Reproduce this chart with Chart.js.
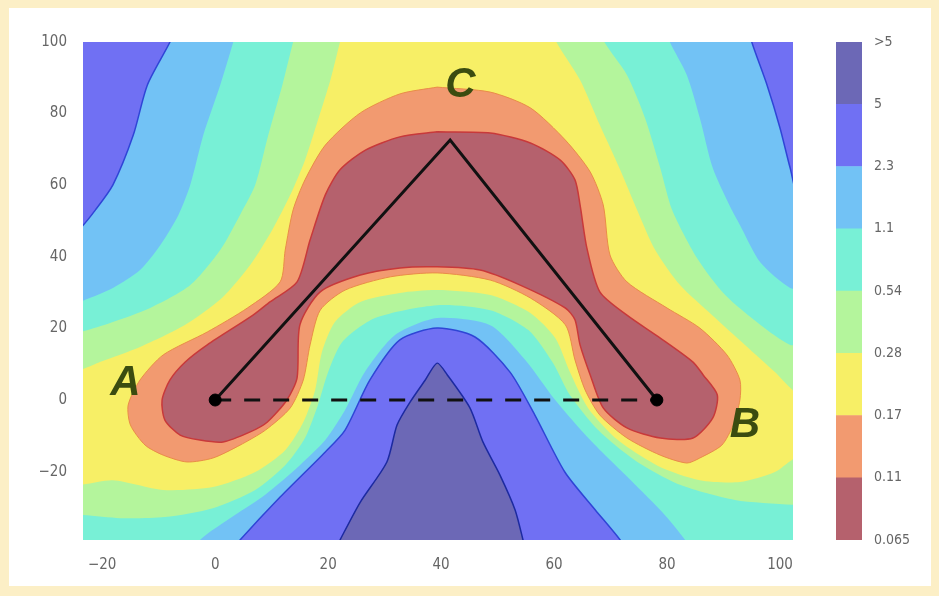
<!DOCTYPE html>
<html><head><meta charset="utf-8">
<script src="https://cdn.jsdelivr.net/npm/chart.js@4.4.0/dist/chart.umd.min.js"></script>
<style>
html,body{margin:0;padding:0;}
body{width:939px;height:596px;background:#fcefc6;position:relative;overflow:hidden;}
#frame{position:absolute;left:9px;top:8px;width:922px;height:578px;background:#ffffff;}
#main{position:absolute;left:0;top:0;}
#cbar{position:absolute;left:820px;top:0;}
</style></head><body>
<div id="frame"></div>
<canvas id="main" width="939" height="596"></canvas>
<canvas id="cbar" width="119" height="596"></canvas>
<script>
// ---- axes ----
const xTicks = [-20, 0, 20, 40, 60, 80, 100];
const yTicks = [-20, 0, 20, 40, 60, 80, 100];
const xRange = [-23.4, 102.3];
const yRange = [-39.1, 100];

// ---- colour bar (levels, bottom to top) ----
const levelLabels = ['0.065', '0.11', '0.17', '0.28', '0.54', '1.1', '2.3', '5', '>5'];
const bandColors = ['#b5616d', '#f29a70', '#f7ef66', '#b4f59c', '#78f0d6', '#72c2f5', '#7070f3', '#6c68b6'];

// ---- contour regions (x, y) ----
const regionLightBlue = [[-30,-45],[110,-45],[110,110],[-30,110]];
const regionBlueTopLeft = [[-7.1,104],[-8.0,100],[-12.0,88.0],[-14.5,74.0],[-18.1,60.1],[-21.2,53.1],[-23.9,48.0],[-27.4,44.7],[-30,44],[-30,104]];
const regionBlueTopRight = [[94.5,104],[95.0,100],[97.7,88.0],[100.0,76.0],[101.8,64.8],[103.5,55.9],[110,50],[110,104]];
const regionBlueBottom = [[3.0,-42],[4.4,-39.1],[11.5,-27.1],[19.5,-14.5],[23.0,-8.4],[27.4,5.6],[32.7,16.8],[39.3,20.1],[46.0,17.6],[52.2,7.8],[56.6,-4.2],[61.9,-20.1],[67.3,-30.7],[71.7,-39.1],[72.6,-42]];
const regionDark = [[21.2,-42],[22.1,-39.1],[25.7,-28.5],[30.4,-17.3],[32.2,-7.0],[34.5,-0.6],[37.2,5.6],[39.3,10.3],[41.1,7.0],[45.1,-2.2],[47.4,-11.7],[50.4,-20.9],[53.1,-30.7],[54.5,-39.1],[54.9,-42]];
const regionCyan = [[3.7,103.4],[3.2,100],[0.9,88.0],[-2.1,74.0],[-4.4,60.1],[-6.5,51.7],[-9.7,43.3],[-13.3,36.3],[-18.1,31.3],[-23.9,27.4],[-27.4,25.1],[-27.4,-41.9],[-2.7,-41.9],[-2.7,-39.1],[3.5,-32.1],[8.8,-26.5],[15.0,-18.2],[19.5,-11.2],[23.0,-2.8],[26.5,7.8],[31.9,18.2],[39.3,22.9],[48.7,20.9],[54.9,11.2],[60.2,0],[66.4,-11.2],[73.5,-22.3],[79.6,-32.1],[83.2,-39.1],[84.1,-41.9],[105.3,-41.9],[105.3,30.2],[101.8,31.3],[96.5,38.5],[92.9,48.9],[91.2,53.9],[88.1,64.8],[85.8,78.8],[83.5,90.8],[80.5,100],[80.0,103.4]];
const regionGreen = [[14.5,103.4],[13.8,100],[11.9,88.0],[9.4,74.0],[7.1,60.1],[4.4,51.7],[0.9,41.9],[-4.4,32.1],[-11.5,25.7],[-18.6,21.5],[-23.9,19.0],[-27.4,18.2],[-27.4,-32.1],[-23.9,-32.1],[-16.8,-33.0],[-8.9,-32.7],[-0.4,-30.2],[7.1,-25.1],[12.4,-18.2],[15.9,-10.6],[18.2,-1.4],[20.0,7.8],[22.5,16.2],[28.3,22.9],[39.3,26.5],[48.7,25.1],[55.4,19.6],[59.7,10.6],[62.8,1.4],[67.8,-8.4],[74.3,-16.8],[82.3,-23.7],[92.0,-27.9],[102.7,-29.3],[105.3,-29.3],[105.3,15.4],[101.8,15.4],[96.5,21.0],[90.3,29.3],[85.3,39.7],[80.9,53.1],[78.8,64.8],[76.1,78.8],[72.9,90.8],[68.9,100],[68.3,103.4]];
const regionYellow = [[22.7,103.4],[22.1,100],[20.4,89.4],[18.2,78.2],[15.9,67.0],[13.3,57.3],[10.1,47.5],[6.2,37.7],[1.2,28.5],[-5.3,21.0],[-13.3,14.8],[-20.4,10.6],[-23.9,8.4],[-27.4,7.8],[-27.4,-23.7],[-23.9,-23.7],[-18.1,-22.4],[-9.2,-25.1],[-0.4,-24.3],[7.1,-20.1],[12.4,-14.0],[15.6,-6.2],[17.7,2.8],[18.9,13.4],[21.2,21.8],[25.7,27.4],[32.7,29.9],[39.3,30.7],[48.7,29.3],[55.8,24.3],[60.2,17.3],[62.8,7.8],[66.0,-2.2],[71.3,-11.2],[78.4,-18.4],[85.8,-22.4],[92.9,-22.9],[99.1,-20.1],[102.7,-16.2],[105.3,-16.2],[105.3,1.4],[102.7,2.2],[99.1,7.8],[93.8,15.4],[88.0,23.7],[82.3,32.1],[77.9,41.9],[74.7,53.1],[71.7,64.3],[68.1,76.8],[64.6,89.4],[60.4,100],[59.8,103.4]];
const regionOrange = [[39.3,87.4],[48.7,86.0],[55.8,81.6],[62.0,72.6],[66.4,63.7],[68.7,54.5],[69.9,40.5],[72.9,33.0],[80.0,25.7],[85.8,20.1],[90.6,12.6],[92.9,5.6],[92.9,0],[91.7,-7.0],[89.7,-12.6],[85.8,-16.2],[83.5,-17.6],[78.8,-15.4],[72.9,-10.6],[68.1,-4.2],[65.5,2.8],[63.7,11.2],[62.0,21.0],[55.8,28.5],[48.7,33.5],[39.3,35.5],[31.0,34.4],[23.0,30.7],[18.6,25.1],[16.8,15.4],[15.6,5.6],[13.3,-2.2],[8.9,-8.4],[4.4,-12.6],[-0.4,-16.2],[-5.0,-17.3],[-9.2,-15.4],[-12.4,-12.6],[-15.0,-7.0],[-15.4,-1.4],[-13.3,5.6],[-9.2,12.6],[-1.4,19.0],[5.7,25.7],[11.5,33.0],[12.4,41.9],[13.8,53.1],[15.9,61.5],[19.5,71.2],[25.7,80.2],[32.7,85.5]];
const regionMaroon = [[39.3,74.9],[48.7,74.6],[55.8,71.8],[61.1,67.0],[63.7,61.5],[64.6,54.5],[65.8,42.5],[68.1,30.2],[72.9,23.7],[78.8,17.3],[84.6,10.6],[86.4,7.0],[88.9,1.4],[88.1,-5.0],[84.6,-10.6],[78.8,-10.6],[72.9,-7.8],[68.7,-2.2],[66.4,7.0],[64.6,15.4],[63.7,22.4],[62.0,25.7],[54.0,32.1],[46.9,36.3],[39.3,37.2],[32.7,36.9],[25.7,34.9],[18.6,30.2],[15.0,21.0],[14.5,6.2],[12.7,0],[9.2,-6.2],[6.2,-8.9],[1.4,-11.7],[-2.7,-11.2],[-6.2,-9.8],[-8.9,-5.6],[-9.4,0],[-8.0,5.6],[-5.3,10.6],[-1.4,15.4],[6.7,23.7],[9.7,27.4],[14.5,33.0],[16.8,44.7],[19.5,57.3],[22.1,64.3],[26.6,69.8],[32.7,73.5]];

// ---- path A - C - B and baseline A - B ----
const pathACB = [[0,0],[41.6,72.6],[78.2,0]];
const pathAB = [[0,0],[78.2,0]];
const endPoints = [[0,0],[78.2,0]];
const pointLabels = [{text:'A', x:-15.9, y:4.7}, {text:'B', x:93.8, y:-7.0}, {text:'C', x:43.4, y:88.0}];

// ---------------------------------------------------------------
const toXY = arr => arr.map(p => ({x: p[0], y: p[1]}));
const closed = arr => toXY(arr.concat([arr[0]]));

function region(arr, color, border, bw) {
  return {
    data: closed(arr), fill: 'shape', backgroundColor: color,
    borderColor: border || color, borderWidth: bw || 0,
    pointRadius: 0, pointHoverRadius: 0, tension: 0.25, clip: 0
  };
}

const letterPlugin = {
  id: 'letters',
  afterDatasetsDraw(chart) {
    const {ctx} = chart;
    const xs = chart.scales.x, ys = chart.scales.y;
    ctx.save();
    ctx.font = 'italic bold 42px "Liberation Sans", Arial, sans-serif';
    ctx.fillStyle = '#3b4c10';
    ctx.textAlign = 'center';
    ctx.textBaseline = 'middle';
    pointLabels.forEach(p => ctx.fillText(p.text, xs.getPixelForValue(p.x), ys.getPixelForValue(p.y)));
    ctx.restore();
  }
};

const tickFont = {family: '"Liberation Sans Narrow", "DejaVu Sans Condensed", "Liberation Sans", sans-serif', size: 15};
const tickColor = '#666666';
const minus = v => String(v).replace('-', '\u2212');

new Chart(document.getElementById('main'), {
  type: 'line',
  data: {
    datasets: [
      {data: toXY(endPoints), showLine: false, pointRadius: 6, pointBackgroundColor: '#000', pointBorderColor: '#000'},
      {data: toXY(pathACB), borderColor: '#111', borderWidth: 3, pointRadius: 0, tension: 0, fill: false},
      {data: toXY(pathAB), borderColor: '#111', borderWidth: 3, borderDash: [16, 13], pointRadius: 0, tension: 0, fill: false},
      region(regionMaroon, bandColors[0], '#c8393a', 1.5),
      region(regionOrange, bandColors[1], '#ea8c48', 1),
      region(regionYellow, bandColors[2]),
      region(regionGreen, bandColors[3]),
      region(regionCyan, bandColors[4]),
      region(regionDark, bandColors[7], '#1c2aa0', 1.5),
      region(regionBlueBottom, bandColors[6], '#2f45d6', 1.5),
      region(regionBlueTopLeft, bandColors[6], '#2f45d6', 1.5),
      region(regionBlueTopRight, bandColors[6], '#2f45d6', 1.5),
      region(regionLightBlue, bandColors[5])
    ]
  },
  options: {
    responsive: false, animation: false, events: [],
    elements: {line: {capBezierPoints: false}},
    layout: {padding: {left: 23, top: 42, right: 146, bottom: 16}},
    plugins: {legend: {display: false}, tooltip: {enabled: false}},
    scales: {
      x: {
        type: 'linear', min: xRange[0], max: xRange[1],
        grid: {display: false, drawTicks: false}, border: {display: false},
        afterBuildTicks: a => { a.ticks = xTicks.map(v => ({value: v})); },
        afterFit: a => { a.height = 40; },
        ticks: {color: tickColor, font: tickFont, padding: 16, maxRotation: 0, callback: v => minus(v)}
      },
      y: {
        type: 'linear', min: yRange[0], max: yRange[1],
        grid: {display: false, drawTicks: false}, border: {display: false},
        afterBuildTicks: a => { a.ticks = yTicks.map(v => ({value: v})); },
        afterFit: a => { a.width = 60; },
        ticks: {color: tickColor, font: tickFont, padding: 16, callback: v => minus(v)}
      }
    }
  },
  plugins: [letterPlugin]
});

// ---- colour bar ----
new Chart(document.getElementById('cbar'), {
  type: 'bar',
  data: {
    labels: ['levels'],
    datasets: bandColors.map(c => ({data: [1], backgroundColor: c, borderWidth: 0, barPercentage: 1, categoryPercentage: 1}))
  },
  options: {
    responsive: false, animation: false, events: [],
    layout: {padding: {left: 16, top: 42, right: 0, bottom: 56}},
    plugins: {legend: {display: false}, tooltip: {enabled: false}},
    scales: {
      x: {display: false, stacked: true},
      y: {
        stacked: true, position: 'right', min: 0, max: levelLabels.length - 1,
        grid: {display: false, drawTicks: false}, border: {display: false},
        afterBuildTicks: a => { a.ticks = levelLabels.map((_, i) => ({value: i})); },
        afterFit: a => { a.width = 77; },
        ticks: {color: tickColor, font: {family: tickFont.family, size: 14}, padding: 12, callback: v => levelLabels[v]}
      }
    }
  }
});
</script></body></html>
